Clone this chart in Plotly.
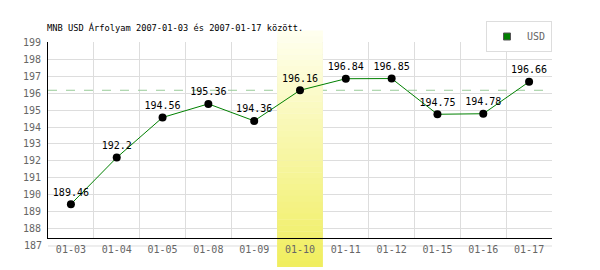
import plotly.graph_objects as go

# ---- data ----
dates = ["01-03", "01-04", "01-05", "01-08", "01-09", "01-10",
         "01-11", "01-12", "01-15", "01-16", "01-17"]
usd_rates = [189.46, 192.2, 194.56, 195.36, 194.36, 196.16,
             196.84, 196.85, 194.75, 194.78, 196.66]
highlight_date = "01-10"
y_ticks = list(range(188, 200))
y_extra_tick = 187
y_range = [187.47, 199]
title_text = "MNB USD Árfolyam 2007-01-03 és 2007-01-17 között."
series_name = "USD"

# ---- styling ----
FONT = "DejaVu Sans Mono"
GRID = "#dddddd"
GRAY = "#666666"
LINE_GREEN = "#008000"

n = len(dates)
xs = list(range(n))
hi_idx = dates.index(highlight_date)
ref_value = usd_rates[hi_idx]
lo, hi = y_range

fig = go.Figure()

fig.add_trace(go.Scatter(
    x=xs, y=usd_rates,
    mode="lines+markers+text",
    text=[str(v) for v in usd_rates],
    textposition="top center",
    textfont=dict(family=FONT, size=10, color="black"),
    line=dict(color=LINE_GREEN, width=1),
    marker=dict(color="black", size=8),
    cliponaxis=False,
    showlegend=False,
    hoverinfo="x+y",
))
# legend entry
fig.add_trace(go.Scatter(
    x=[None], y=[None], mode="markers", name=series_name,
    marker=dict(symbol="square", color=LINE_GREEN, size=7,
                line=dict(color="#555555", width=1)),
    showlegend=True,
))

shapes = []
# extra gridline for 187 (below the x axis)
y187 = (y_extra_tick - lo) / (hi - lo)
shapes.append(dict(type="line", xref="paper", yref="paper", x0=0, x1=1,
                   y0=y187, y1=y187, layer="below",
                   line=dict(color=GRID, width=1)))

# dashed reference line (value of highlighted day) - below the band
shapes.append(dict(type="line", xref="x", yref="y", x0=-0.5, x1=n - 0.5,
                   y0=ref_value, y1=ref_value, layer="between",
                   line=dict(color="#99cc99", width=1, dash="dash")))

# highlight band with vertical gradient (extends beyond plot area)
plot_h = 270 - 42 - 32
band_top = 1 + 11 / plot_h
band_bot = -29 / plot_h
top_rgb = (255, 255, 240)
bot_rgb = (240, 238, 94)
steps = 40


def add_strip(pa, pb, color):
    # pa < pb in paper units; split into inside/outside plot area parts
    pieces = []
    for a, b in ((pa, min(pb, 0)), (max(pa, 0), min(pb, 1)), (max(pa, 1), pb)):
        if b > a:
            pieces.append((a, b))
    for a, b in pieces:
        inside = a >= 0 and b <= 1
        if inside:
            shapes.append(dict(type="rect", xref="x", yref="y",
                               x0=hi_idx - 0.5, x1=hi_idx + 0.5,
                               y0=lo + a * (hi - lo), y1=lo + b * (hi - lo),
                               layer="between", line=dict(width=0),
                               fillcolor=color))
        else:
            shapes.append(dict(type="rect", xref="paper", yref="paper",
                               x0=hi_idx / n, x1=(hi_idx + 1) / n,
                               y0=a, y1=b, layer="below",
                               line=dict(width=0), fillcolor=color))


for k in range(steps):
    t = (k + 0.5) / steps
    c = tuple(round(top_rgb[i] + (bot_rgb[i] - top_rgb[i]) * t) for i in range(3))
    ya = band_top - (band_top - band_bot) * k / steps
    yb = band_top - (band_top - band_bot) * (k + 1) / steps
    add_strip(yb, ya + 0.002, "rgb(%d,%d,%d)" % c)

fig.update_layout(
    width=600, height=270, autosize=False,
    margin=dict(l=48, r=48, t=42, b=32, pad=0),
    paper_bgcolor="white",
    plot_bgcolor="rgba(0,0,0,0)",
    font=dict(family=FONT, size=10, color=GRAY),
    title=dict(text=title_text, x=47 / 600, xanchor="left", xref="container",
               y=1 - 28 / 270, yanchor="middle", yref="container",
               font=dict(family=FONT, size=8.7, color="black")),
    shapes=shapes,
    annotations=[dict(text=str(y_extra_tick), xref="paper", yref="paper",
                      x=0, y=y187, xanchor="right", yanchor="middle",
                      xshift=-4, showarrow=False,
                      font=dict(family=FONT, size=10, color=GRAY))],
    legend=dict(x=1, xanchor="right", y=1 + 21 / plot_h, yanchor="top",
                bordercolor=GRID, borderwidth=1, bgcolor="white",
                font=dict(family=FONT, size=10, color=GRAY),
                itemwidth=30),
    showlegend=True,
    hovermode="closest",
)

fig.update_xaxes(
    range=[-0.5, n - 0.5], tickvals=xs, ticktext=dates,
    showgrid=False, zeroline=False,
    showline=True, linecolor="black", linewidth=1,
    ticks="", ticklabelstandoff=2,
    tickfont=dict(family=FONT, size=10, color=GRAY),
    minor=dict(tick0=0.5, dtick=1, showgrid=True, gridcolor=GRID,
               gridwidth=1, ticks=""),
)
fig.update_yaxes(
    range=y_range, tickvals=y_ticks,
    showgrid=True, gridcolor=GRID, gridwidth=1, zeroline=False,
    showline=True, linecolor="black", linewidth=1,
    ticks="", ticklabelstandoff=4,
    tickfont=dict(family=FONT, size=10, color=GRAY),
)

fig.write_html("out.html")
